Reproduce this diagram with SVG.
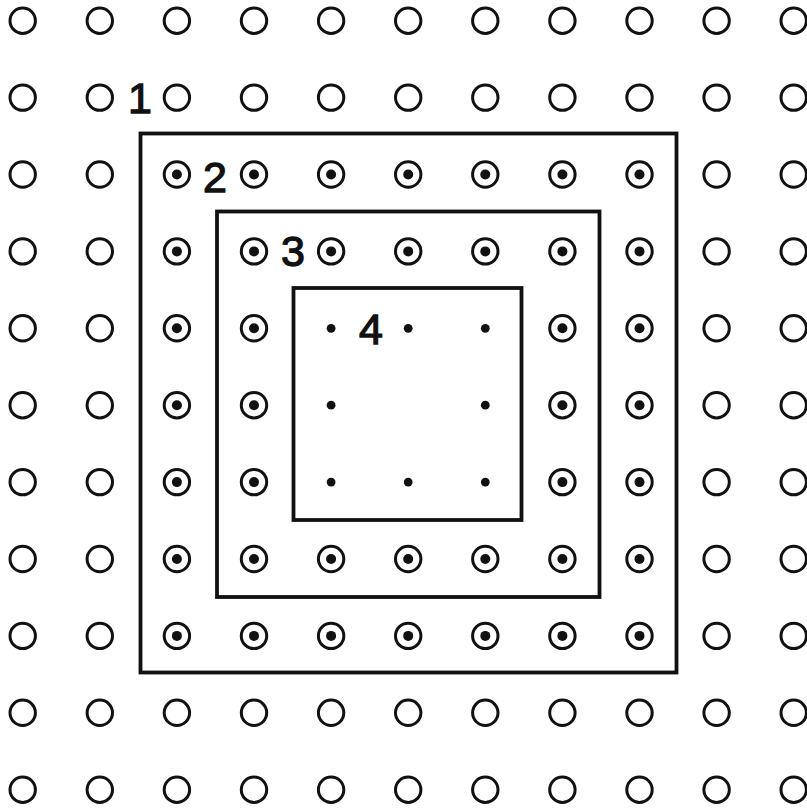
<svg xmlns="http://www.w3.org/2000/svg" xmlns:xlink="http://www.w3.org/1999/xlink" width="807" height="809" viewBox="0 0 807 809">
<style>
.c{fill:none;stroke:#111;stroke-width:3}
.d{fill:#111}
.box{fill:none;stroke:#111;stroke-width:3.8;stroke-linejoin:miter}
.lbl{font-family:"Liberation Sans",Arial,sans-serif;font-size:43px;fill:#111;stroke:#111;stroke-width:1.3;text-anchor:middle}
</style>
<defs>
<g id="e"><circle class="c" cx="0" cy="0" r="12.7"/></g>
<g id="p"><circle class="c" cx="0" cy="0" r="12.7"/><circle class="d" cx="0" cy="0" r="5"/></g>
<g id="s"><circle class="d" cx="0" cy="0" r="4.4"/></g>
</defs>
<rect width="807" height="809" fill="#fff"/>
<g id="boxes">
<rect id="box1" class="box" x="140.5" y="133.5" width="536" height="539"/>
<rect id="box2" class="box" x="217" y="211.5" width="382.5" height="385.5"/>
<rect id="box3" class="box" x="293.5" y="288" width="228" height="232"/>
</g>
<g id="ring-outer">
<use href="#e" x="22.7" y="20.7"/><use href="#e" x="99.8" y="20.7"/><use href="#e" x="176.9" y="20.7"/><use href="#e" x="254" y="20.7"/><use href="#e" x="331.1" y="20.7"/><use href="#e" x="408.2" y="20.7"/><use href="#e" x="485.3" y="20.7"/><use href="#e" x="562.4" y="20.7"/><use href="#e" x="639.5" y="20.7"/><use href="#e" x="716.6" y="20.7"/><use href="#e" x="793.7" y="20.7"/>
<use href="#e" x="22.7" y="97.6"/><use href="#e" x="99.8" y="97.6"/><use href="#e" x="176.9" y="97.6"/><use href="#e" x="254" y="97.6"/><use href="#e" x="331.1" y="97.6"/><use href="#e" x="408.2" y="97.6"/><use href="#e" x="485.3" y="97.6"/><use href="#e" x="562.4" y="97.6"/><use href="#e" x="639.5" y="97.6"/><use href="#e" x="716.6" y="97.6"/><use href="#e" x="793.7" y="97.6"/>
<use href="#e" x="22.7" y="174.5"/><use href="#e" x="99.8" y="174.5"/><use href="#e" x="716.6" y="174.5"/><use href="#e" x="793.7" y="174.5"/>
<use href="#e" x="22.7" y="251.4"/><use href="#e" x="99.8" y="251.4"/><use href="#e" x="716.6" y="251.4"/><use href="#e" x="793.7" y="251.4"/>
<use href="#e" x="22.7" y="328.3"/><use href="#e" x="99.8" y="328.3"/><use href="#e" x="716.6" y="328.3"/><use href="#e" x="793.7" y="328.3"/>
<use href="#e" x="22.7" y="405.2"/><use href="#e" x="99.8" y="405.2"/><use href="#e" x="716.6" y="405.2"/><use href="#e" x="793.7" y="405.2"/>
<use href="#e" x="22.7" y="482.1"/><use href="#e" x="99.8" y="482.1"/><use href="#e" x="716.6" y="482.1"/><use href="#e" x="793.7" y="482.1"/>
<use href="#e" x="22.7" y="559"/><use href="#e" x="99.8" y="559"/><use href="#e" x="716.6" y="559"/><use href="#e" x="793.7" y="559"/>
<use href="#e" x="22.7" y="635.9"/><use href="#e" x="99.8" y="635.9"/><use href="#e" x="716.6" y="635.9"/><use href="#e" x="793.7" y="635.9"/>
<use href="#e" x="22.7" y="712.8"/><use href="#e" x="99.8" y="712.8"/><use href="#e" x="176.9" y="712.8"/><use href="#e" x="254" y="712.8"/><use href="#e" x="331.1" y="712.8"/><use href="#e" x="408.2" y="712.8"/><use href="#e" x="485.3" y="712.8"/><use href="#e" x="562.4" y="712.8"/><use href="#e" x="639.5" y="712.8"/><use href="#e" x="716.6" y="712.8"/><use href="#e" x="793.7" y="712.8"/>
<use href="#e" x="22.7" y="789.7"/><use href="#e" x="99.8" y="789.7"/><use href="#e" x="176.9" y="789.7"/><use href="#e" x="254" y="789.7"/><use href="#e" x="331.1" y="789.7"/><use href="#e" x="408.2" y="789.7"/><use href="#e" x="485.3" y="789.7"/><use href="#e" x="562.4" y="789.7"/><use href="#e" x="639.5" y="789.7"/><use href="#e" x="716.6" y="789.7"/><use href="#e" x="793.7" y="789.7"/>
</g>
<g id="ring-2">
<use href="#p" x="176.9" y="174.5"/><use href="#p" x="254" y="174.5"/><use href="#p" x="331.1" y="174.5"/><use href="#p" x="408.2" y="174.5"/><use href="#p" x="485.3" y="174.5"/><use href="#p" x="562.4" y="174.5"/><use href="#p" x="639.5" y="174.5"/>
<use href="#p" x="176.9" y="251.4"/><use href="#p" x="639.5" y="251.4"/>
<use href="#p" x="176.9" y="328.3"/><use href="#p" x="639.5" y="328.3"/>
<use href="#p" x="176.9" y="405.2"/><use href="#p" x="639.5" y="405.2"/>
<use href="#p" x="176.9" y="482.1"/><use href="#p" x="639.5" y="482.1"/>
<use href="#p" x="176.9" y="559"/><use href="#p" x="639.5" y="559"/>
<use href="#p" x="176.9" y="635.9"/><use href="#p" x="254" y="635.9"/><use href="#p" x="331.1" y="635.9"/><use href="#p" x="408.2" y="635.9"/><use href="#p" x="485.3" y="635.9"/><use href="#p" x="562.4" y="635.9"/><use href="#p" x="639.5" y="635.9"/>
</g>
<g id="ring-3">
<use href="#p" x="254" y="251.4"/><use href="#p" x="331.1" y="251.4"/><use href="#p" x="408.2" y="251.4"/><use href="#p" x="485.3" y="251.4"/><use href="#p" x="562.4" y="251.4"/>
<use href="#p" x="254" y="328.3"/><use href="#p" x="562.4" y="328.3"/>
<use href="#p" x="254" y="405.2"/><use href="#p" x="562.4" y="405.2"/>
<use href="#p" x="254" y="482.1"/><use href="#p" x="562.4" y="482.1"/>
<use href="#p" x="254" y="559"/><use href="#p" x="331.1" y="559"/><use href="#p" x="408.2" y="559"/><use href="#p" x="485.3" y="559"/><use href="#p" x="562.4" y="559"/>
</g>
<g id="ring-4">
<use href="#s" x="331.1" y="328.3"/><use href="#s" x="408.2" y="328.3"/><use href="#s" x="485.3" y="328.3"/>
<use href="#s" x="331.1" y="405.2"/><use href="#s" x="485.3" y="405.2"/>
<use href="#s" x="331.1" y="482.1"/><use href="#s" x="408.2" y="482.1"/><use href="#s" x="485.3" y="482.1"/>
</g>
<g id="labels">
<text class="lbl" x="140" y="113">1</text>
<text class="lbl" x="215" y="192">2</text>
<text class="lbl" x="293" y="266">3</text>
<text class="lbl" x="371" y="344">4</text>
</g>
</svg>
